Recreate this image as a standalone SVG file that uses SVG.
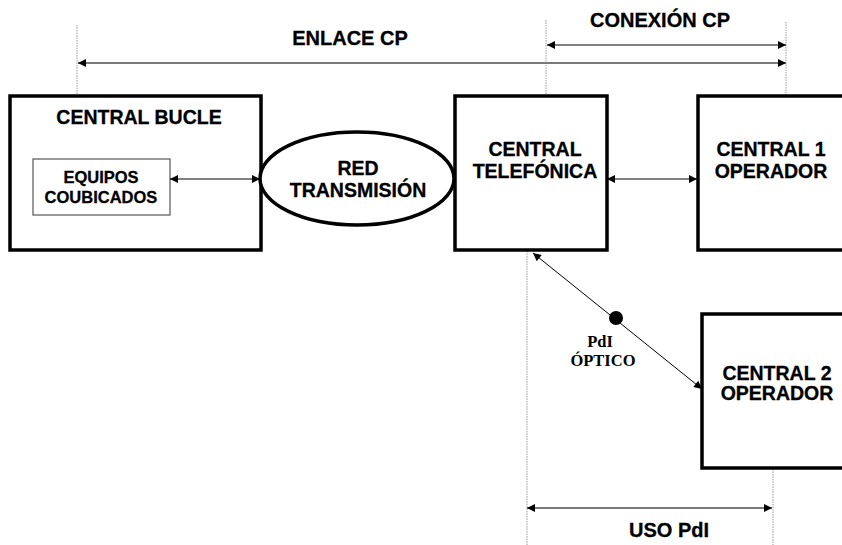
<svg xmlns="http://www.w3.org/2000/svg" width="842" height="545" viewBox="0 0 842 545">
<style>
.box{fill:#fff;stroke:#000;stroke-width:3.5}
.thin{fill:#fff;stroke:#555;stroke-width:1.2}
.lbl{font-family:"Liberation Sans",Arial,sans-serif;font-weight:bold;font-size:19.5px;fill:#000;stroke:#000;stroke-width:0.3;text-anchor:middle}
.sm{font-size:16.5px}
.dim{font-size:20px}
.ser{font-family:"Liberation Serif","Times New Roman",serif;font-weight:bold;font-size:16.5px;fill:#000;text-anchor:middle}
.guide{stroke:#999;stroke-width:1;stroke-dasharray:1.5,1}
.arr{stroke:#000;stroke-width:1;fill:none;marker-start:url(#ms);marker-end:url(#me)}
.arrg{stroke:#7a7a7a;stroke-width:2;fill:none;marker-start:url(#ms2);marker-end:url(#me2)}
</style>
<defs>
<marker id="me" viewBox="0 0 10 10" refX="10" refY="5" markerWidth="10" markerHeight="8" markerUnits="userSpaceOnUse" orient="auto"><path d="M0,0 L10,5 L0,10 z" fill="#000"/></marker>
<marker id="ms" viewBox="0 0 10 10" refX="0" refY="5" markerWidth="10" markerHeight="8" markerUnits="userSpaceOnUse" orient="auto"><path d="M10,0 L0,5 L10,10 z" fill="#000"/></marker>
<marker id="me2" viewBox="0 0 10 10" refX="10" refY="5" markerWidth="10" markerHeight="8" markerUnits="userSpaceOnUse" orient="auto"><path d="M0,0 L10,5 L0,10 z" fill="#000"/></marker>
<marker id="ms2" viewBox="0 0 10 10" refX="0" refY="5" markerWidth="10" markerHeight="8" markerUnits="userSpaceOnUse" orient="auto"><path d="M10,0 L0,5 L10,10 z" fill="#000"/></marker>
</defs>
<rect width="842" height="545" fill="#fff"/>
<g id="guides">
<line class="guide" x1="77" y1="25" x2="77" y2="96"/>
<line class="guide" x1="546" y1="20" x2="546" y2="96"/>
<line class="guide" x1="786" y1="22" x2="786" y2="96"/>
<line class="guide" x1="527" y1="251" x2="527" y2="545"/>
<line class="guide" x1="773" y1="469" x2="773" y2="545"/>
</g>
<g id="central-bucle">
<rect class="box" x="10" y="96" width="251" height="154"/>
<text class="lbl" x="139" y="124">CENTRAL BUCLE</text>
</g>
<g id="equipos">
<rect class="thin" x="33" y="159" width="137" height="56"/>
<text class="lbl sm" x="101" y="183">EQUIPOS</text>
<text class="lbl sm" x="101" y="203">COUBICADOS</text>
</g>
<g id="red">
<ellipse class="box" cx="357" cy="178.5" rx="97" ry="46.5"/>
<text class="lbl" x="358" y="175">RED</text>
<text class="lbl" x="358" y="197">TRANSMISIÓN</text>
</g>
<g id="central-telefonica">
<rect class="box" x="455" y="96" width="152" height="154"/>
<text class="lbl" x="535" y="156">CENTRAL</text>
<text class="lbl" x="535" y="178">TELEFÓNICA</text>
</g>
<g id="central-1">
<rect class="box" x="698" y="96" width="170" height="154"/>
<text class="lbl" x="771" y="156">CENTRAL 1</text>
<text class="lbl" x="771" y="178">OPERADOR</text>
</g>
<g id="central-2">
<rect class="box" x="702" y="314" width="170" height="154"/>
<text class="lbl" x="777" y="380">CENTRAL 2</text>
<text class="lbl" x="777" y="400">OPERADOR</text>
</g>
<g id="pdi">
<circle cx="616" cy="318" r="7" fill="#000"/>
<text class="ser" x="600" y="347">PdI</text>
<text class="ser" x="603" y="366">ÓPTICO</text>
</g>
<g id="connectors">
<line class="arrg" x1="78" y1="63" x2="786" y2="63"/>
<line class="arr" x1="547" y1="45" x2="786" y2="45"/>
<line class="arr" x1="170" y1="179" x2="260" y2="179"/>
<line class="arr" x1="607" y1="179" x2="697" y2="179"/>
<line class="arr" x1="533" y1="253" x2="702" y2="389"/>
<line class="arrg" x1="527" y1="508" x2="772" y2="508"/>
</g>
<g id="dimension-labels">
<text class="lbl dim" x="350" y="45">ENLACE CP</text>
<text class="lbl dim" x="660" y="27">CONEXIÓN CP</text>
<text class="lbl dim" x="669" y="537">USO PdI</text>
</g>
</svg>
